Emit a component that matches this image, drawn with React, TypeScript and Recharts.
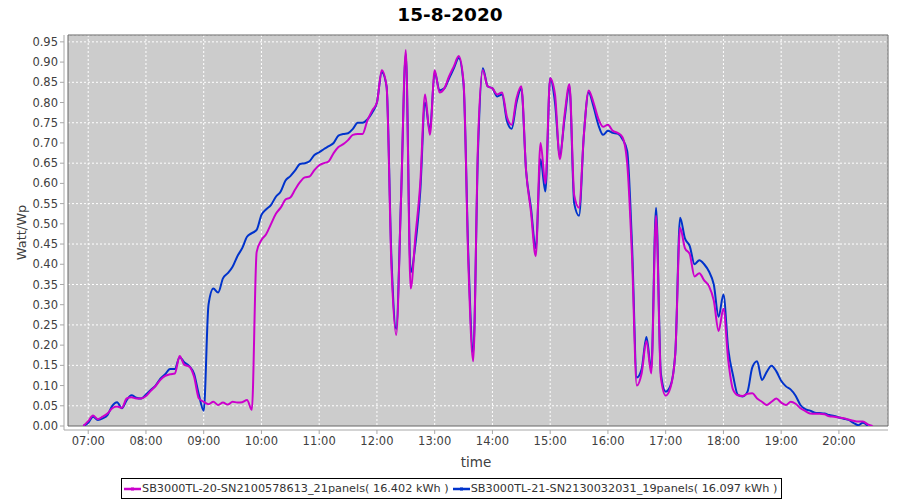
import { LineChart, Line, XAxis, YAxis, CartesianGrid, ReferenceArea } from "recharts";

const times = [
  "06:55",
  "07:00", "07:05", "07:10", "07:15", "07:20", "07:25", "07:30", "07:35", "07:40", "07:45", "07:50", "07:55",
  "08:00", "08:05", "08:10", "08:15", "08:20", "08:25", "08:30", "08:35", "08:40", "08:45", "08:50", "08:55",
  "09:00", "09:05", "09:10", "09:15", "09:20", "09:25", "09:30", "09:35", "09:40", "09:45", "09:50", "09:55",
  "10:00", "10:05", "10:10", "10:15", "10:20", "10:25", "10:30", "10:35", "10:40", "10:45", "10:50", "10:55",
  "11:00", "11:05", "11:10", "11:15", "11:20", "11:25", "11:30", "11:35", "11:40", "11:45", "11:50", "11:55",
  "12:00", "12:05", "12:10", "12:15", "12:20", "12:25", "12:30", "12:35", "12:40", "12:45", "12:50", "12:55",
  "13:00", "13:05", "13:10", "13:15", "13:20", "13:25", "13:30", "13:35", "13:40", "13:45", "13:50", "13:55",
  "14:00", "14:05", "14:10", "14:15", "14:20", "14:25", "14:30", "14:35", "14:40", "14:45", "14:50", "14:55",
  "15:00", "15:05", "15:10", "15:15", "15:20", "15:25", "15:30", "15:35", "15:40", "15:45", "15:50", "15:55",
  "16:00", "16:05", "16:10", "16:15", "16:20", "16:25", "16:30", "16:35", "16:40", "16:45", "16:50", "16:55",
  "17:00", "17:05", "17:10", "17:15", "17:20", "17:25", "17:30", "17:35", "17:40", "17:45", "17:50", "17:55",
  "18:00", "18:05", "18:10", "18:15", "18:20", "18:25", "18:30", "18:35", "18:40", "18:45", "18:50", "18:55",
  "19:00", "19:05", "19:10", "19:15", "19:20", "19:25", "19:30", "19:35", "19:40", "19:45", "19:50", "19:55",
  "20:00", "20:05", "20:10", "20:15", "20:20", "20:25", "20:30", "20:35",
];

// SB3000TL-20 (magenta)
const sb20 = [
  0.0,
  0.012, 0.026, 0.017, 0.023, 0.031, 0.044, 0.048, 0.045, 0.068, 0.071, 0.068, 0.068,
  0.074, 0.087, 0.099, 0.114, 0.124, 0.128, 0.13, 0.173, 0.151, 0.147, 0.122, 0.068,
  0.06, 0.054, 0.06, 0.052, 0.058, 0.053, 0.06, 0.058, 0.059, 0.064, 0.04, 0.43,
  0.46, 0.475, 0.5, 0.525, 0.54, 0.56, 0.565, 0.585, 0.603, 0.615, 0.617, 0.633,
  0.645, 0.65, 0.655, 0.675, 0.69, 0.697, 0.707, 0.72, 0.722, 0.722, 0.755, 0.78,
  0.8, 0.88, 0.84, 0.4, 0.225, 0.56, 0.93, 0.34, 0.47, 0.6, 0.82, 0.72,
  0.88, 0.825, 0.835, 0.865, 0.89, 0.915, 0.85, 0.4, 0.16, 0.7, 0.88, 0.84,
  0.835, 0.82, 0.825, 0.765, 0.745, 0.81, 0.84, 0.63, 0.53, 0.42, 0.7, 0.6,
  0.86, 0.82, 0.66, 0.77, 0.845, 0.57, 0.54, 0.72, 0.83, 0.8, 0.76, 0.74,
  0.745, 0.73, 0.725, 0.715, 0.65, 0.42, 0.1, 0.13, 0.21, 0.13, 0.52, 0.12,
  0.075, 0.095, 0.18, 0.49, 0.44, 0.425, 0.37, 0.378, 0.36, 0.346, 0.31, 0.235,
  0.29, 0.163, 0.09, 0.076, 0.074, 0.08, 0.081, 0.068, 0.06, 0.052, 0.06, 0.068,
  0.058, 0.052, 0.06, 0.055, 0.044, 0.037, 0.031, 0.03, 0.03, 0.029, 0.024, 0.023,
  0.021, 0.019, 0.016, 0.013, 0.011, 0.011, 0.004, 0.0,
];

// SB3000TL-21 (blue)
const sb21 = [
  0.0,
  0.008, 0.023, 0.015, 0.019, 0.027, 0.05, 0.059, 0.044, 0.064, 0.076, 0.07, 0.068,
  0.078, 0.089, 0.1, 0.117, 0.128, 0.141, 0.141, 0.17, 0.157, 0.148, 0.129, 0.077,
  0.038, 0.3, 0.34, 0.33, 0.365, 0.378, 0.394, 0.42, 0.44, 0.468, 0.477, 0.485,
  0.522, 0.536, 0.547, 0.567, 0.58, 0.607, 0.618, 0.632, 0.648, 0.65, 0.655, 0.67,
  0.677, 0.685, 0.692, 0.7, 0.718, 0.722, 0.724, 0.735, 0.75, 0.75, 0.758, 0.775,
  0.8, 0.875, 0.84, 0.42, 0.24, 0.56, 0.92, 0.38, 0.45, 0.58, 0.8, 0.73,
  0.875, 0.83, 0.835, 0.86, 0.885, 0.91, 0.845, 0.42, 0.18, 0.68, 0.885, 0.84,
  0.835, 0.815, 0.82, 0.755, 0.735, 0.8, 0.835, 0.63, 0.54, 0.44, 0.66, 0.58,
  0.86, 0.8, 0.67, 0.76, 0.84, 0.55, 0.52, 0.72, 0.825, 0.79, 0.745, 0.72,
  0.73, 0.725, 0.723, 0.71, 0.68, 0.45, 0.12, 0.14, 0.22, 0.14, 0.54, 0.13,
  0.085, 0.1, 0.18, 0.515, 0.464, 0.445, 0.4, 0.41, 0.4, 0.382, 0.35, 0.27,
  0.325, 0.19, 0.125, 0.077, 0.073, 0.085, 0.145, 0.16, 0.114, 0.134, 0.149, 0.135,
  0.112, 0.098, 0.09, 0.075, 0.052, 0.042, 0.038, 0.033, 0.032, 0.031, 0.027, 0.025,
  0.021, 0.018, 0.015, 0.008, 0.002, 0.008, 0.0, null,
];

const hourLabels = [
  "07:00", "08:00", "09:00", "10:00", "11:00", "12:00", "13:00",
  "14:00", "15:00", "16:00", "17:00", "18:00", "19:00", "20:00",
];

const yTicks = [
  0, 0.05, 0.1, 0.15, 0.2, 0.25, 0.3, 0.35, 0.4, 0.45,
  0.5, 0.55, 0.6, 0.65, 0.7, 0.75, 0.8, 0.85, 0.9, 0.95,
];

const seriesNames = [
  "SB3000TL-20-SN2100578613_21panels( 16.402 kWh )",
  "SB3000TL-21-SN2130032031_19panels( 16.097 kWh )",
];

const MAGENTA = "#cc00cc";
const BLUE = "#0033cc";
const FONT = "'DejaVu Sans', sans-serif";

const toMin = (s: string) => {
  const [h, m] = s.split(":").map(Number);
  return h * 60 + m;
};
const fmtMin = (v: number) => {
  const h = Math.floor(v / 60);
  const m = v % 60;
  return `${String(h).padStart(2, "0")}:${String(m).padStart(2, "0")}`;
};

const data = times.map((t, i) => ({ t: toMin(t), m: sb20[i], b: sb21[i] }));
const xTicks = hourLabels.map(toMin);

const X_MIN = 399;
const X_MAX = 1251;
const Y_MAX = 0.967;

const yLabel = ({ viewBox }: any) => {
  const cx = viewBox.x + 13;
  const cy = viewBox.y + viewBox.height / 2;
  return (
    <text
      x={cx}
      y={cy}
      transform={`rotate(-90 ${cx} ${cy})`}
      textAnchor="middle"
      dominantBaseline="central"
      fontSize={13}
      fontFamily={FONT}
      fill="#404040"
    >
      Watt/Wp
    </text>
  );
};

function LegendItem({ color, text }: { color: string; text: string }) {
  return (
    <span style={{ display: "inline-flex", alignItems: "center" }}>
      <svg width={17} height={8} style={{ marginRight: 1 }}>
        <line x1={0} y1={4} x2={17} y2={4} stroke={color} strokeWidth={2.5} />
        <rect x={7} y={2.5} width={3} height={3} fill={color} />
      </svg>
      <span>{text}</span>
    </span>
  );
}

export default function App() {
  return (
    <div
      style={{
        position: "absolute",
        left: 0,
        top: 0,
        width: 900,
        height: 500,
        background: "#fff",
        fontFamily: FONT,
      }}
    >
      <div
        style={{
          position: "absolute",
          top: 3,
          left: 0,
          width: 900,
          textAlign: "center",
          fontWeight: "bold",
          fontSize: 18.5,
          lineHeight: "24px",
          color: "#000",
        }}
      >
        15-8-2020
      </div>

      <LineChart
        width={900}
        height={500}
        data={data}
        margin={{ top: 35, right: 12, bottom: 30, left: 8 }}
      >
        <CartesianGrid
          x={68}
          y={35}
          width={820}
          height={391}
          fill="#cccccc"
          stroke="#ffffff"
          strokeDasharray="2 2"
          strokeWidth={1}
        />
        <ReferenceArea
          x1={X_MIN}
          x2={X_MAX}
          y1={0}
          y2={Y_MAX}
          fill="none"
          stroke="#666666"
          strokeWidth={1}
          ifOverflow="visible"
        />
        <XAxis
          type="number"
          dataKey="t"
          domain={[X_MIN, X_MAX]}
          allowDataOverflow
          ticks={xTicks}
          tickFormatter={fmtMin}
          padding={{ left: 4, right: 0 }}
          height={40}
          tickSize={4}
          tickMargin={3}
          stroke="#a8a8a8"
          tick={{ fontSize: 11.5, fill: "#404040", fontFamily: FONT }}
          label={{
            value: "time",
            position: "insideBottom",
            offset: 3,
            fontSize: 13.5,
            fill: "#404040",
            fontFamily: FONT,
          }}
        />
        <YAxis
          type="number"
          domain={[0, Y_MAX]}
          allowDataOverflow
          ticks={yTicks}
          tickFormatter={(v: number) => v.toFixed(2)}
          padding={{ top: 0, bottom: 4 }}
          width={56}
          tickSize={4}
          stroke="#a8a8a8"
          tick={{ fontSize: 11.5, fill: "#404040", fontFamily: FONT }}
          label={yLabel}
        />
        <Line
          type="monotone"
          dataKey="b"
          stroke={BLUE}
          strokeWidth={2}
          dot={false}
          isAnimationActive={false}
        />
        <Line
          type="monotone"
          dataKey="m"
          stroke={MAGENTA}
          strokeWidth={2}
          dot={false}
          isAnimationActive={false}
        />
      </LineChart>

      <div
        style={{
          position: "absolute",
          left: 121,
          top: 478,
          height: 19,
          border: "1px solid #000",
          display: "flex",
          alignItems: "center",
          padding: "0 4px 0 2px",
          fontSize: 11.25,
          color: "#333",
          whiteSpace: "nowrap",
          gap: 4,
        }}
      >
        <LegendItem color={MAGENTA} text={seriesNames[0]} />
        <LegendItem color={BLUE} text={seriesNames[1]} />
      </div>
    </div>
  );
}
